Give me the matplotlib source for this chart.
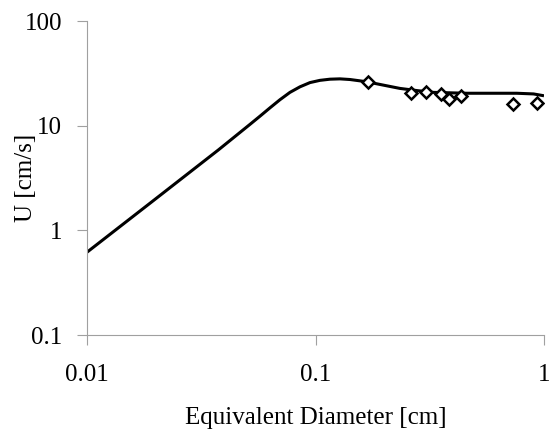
import matplotlib
matplotlib.use("Agg")
import matplotlib.pyplot as plt
from matplotlib.ticker import FixedLocator, FixedFormatter, NullLocator

# Model curve
curve_d = [0.01, 0.0192, 0.0376, 0.0517, 0.0571, 0.0632, 0.0699, 0.0773,
           0.0855, 0.0946, 0.1046, 0.1157, 0.128, 0.1416, 0.167, 0.20, 0.234,
           0.28, 0.328, 0.459, 0.60, 0.76, 0.90, 1.0]
curve_u = [0.618, 1.87, 5.87, 10.3, 12.3, 14.8, 17.7, 20.8,
           23.5, 25.8, 27.1, 27.8, 28.0, 27.6, 26.3, 24.3, 22.7,
           21.6, 20.8, 20.4, 20.4, 20.4, 20.1, 19.3]

# Experimental points
exp_d = [0.170, 0.262, 0.303, 0.354, 0.384, 0.432, 0.730, 0.935]
exp_u = [26.0, 20.7, 20.8, 20.1, 18.0, 19.1, 16.2, 16.6]

x_ticks = [0.01, 0.1, 1]
x_labels = ["0.01", "0.1", "1"]
y_ticks = [0.1, 1, 10, 100]
y_labels = ["0.1", "1", "10", "100"]

plt.rcParams['font.family'] = ['Liberation Serif', 'DejaVu Serif']

fig = plt.figure(figsize=(5.51, 4.32), dpi=100)
ax = fig.add_axes([87/551, 1 - 335/432, (544-87)/551, (335-21)/432])

ax.plot(curve_d, curve_u, color='black', lw=2.2, solid_capstyle='butt',
        solid_joinstyle='round', zorder=2)
ax.plot(exp_d, exp_u, linestyle='none', marker='D', markersize=6,
        markerfacecolor='white', markeredgecolor='black', markeredgewidth=1.8, zorder=3)

ax.set_xscale('log')
ax.set_yscale('log')
ax.set_xlim(0.01, 1)
ax.set_ylim(0.1, 100)

ax.xaxis.set_major_locator(FixedLocator(x_ticks))
ax.xaxis.set_major_formatter(FixedFormatter(x_labels))
ax.xaxis.set_minor_locator(NullLocator())
ax.yaxis.set_major_locator(FixedLocator(y_ticks))
ax.yaxis.set_major_formatter(FixedFormatter(y_labels))
ax.yaxis.set_minor_locator(NullLocator())

for s in ['top', 'right']:
    ax.spines[s].set_visible(False)
for s in ['left', 'bottom']:
    ax.spines[s].set_color('#a0a0a0')
    ax.spines[s].set_linewidth(0.8)

ax.tick_params(axis='both', which='major', direction='out', length=7,
               color='#a0a0a0', width=0.8, labelsize=18, labelcolor='black')
ax.tick_params(axis='x', pad=14)
ax.tick_params(axis='y', pad=11)

ax.set_xlabel("Equivalent Diameter [cm]", fontsize=18, labelpad=15)
ax.yaxis.set_label_coords(-(87 - 26) / (544 - 87), 0.5)
ax.set_ylabel("U [cm/s]", fontsize=18, va='center')

fig.savefig("out.png", dpi=100)
